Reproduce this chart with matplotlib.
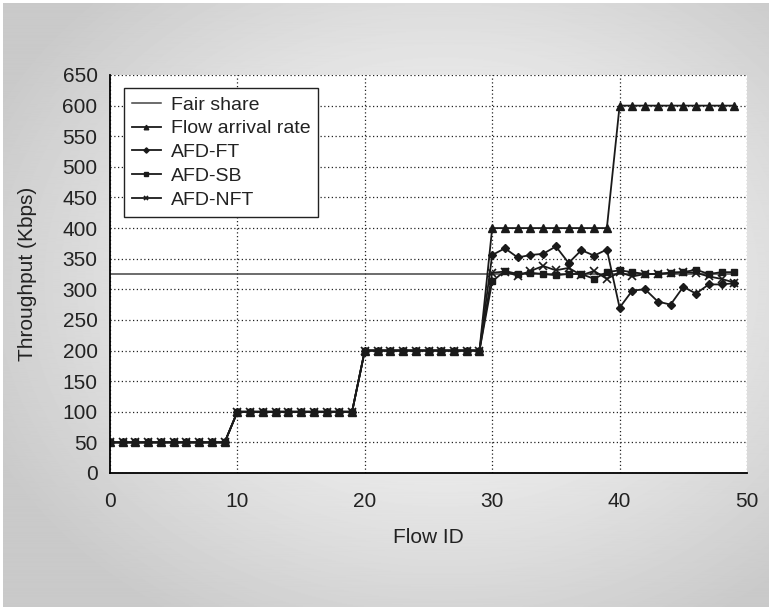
import numpy as np
import matplotlib
matplotlib.use("Agg")
import matplotlib.pyplot as plt

plt.rcParams["font.family"] = ["Liberation Sans", "DejaVu Sans"]

flow_id = list(range(50))
fair_share = 325
arrival = [50] * 10 + [100] * 10 + [200] * 10 + [400] * 10 + [600] * 10
afd_ft = ([50] * 10 + [100] * 10 + [200] * 10 +
          [356, 367, 352, 356, 358, 370, 343, 364, 355, 365,
           270, 298, 300, 280, 275, 304, 293, 308, 308, 310])
afd_sb = ([50] * 10 + [100] * 10 + [200] * 10 +
          [313, 330, 325, 327, 325, 323, 325, 325, 317, 328,
           331, 328, 325, 325, 327, 328, 332, 325, 328, 328])
afd_nft = ([50] * 10 + [100] * 10 + [200] * 10 +
           [327, 329, 322, 330, 338, 331, 335, 323, 330, 317,
            328, 321, 325, 325, 327, 328, 327, 321, 317, 311])

fig = plt.figure(figsize=(7.69, 6.07), dpi=100)

# grey radial backdrop
bg = fig.add_axes([3 / 769, 0, 1, 1 - 3 / 607], zorder=0)
yy, xx = np.mgrid[0:607, 0:769]
d = np.sqrt(((xx - 440) / 500.0) ** 2 + ((yy - 280) / 400.0) ** 2)
shade = 1.0 - 0.21 * np.clip(d, 0, 1) ** 1.2
bg.imshow(shade, cmap="gray", vmin=0, vmax=1, aspect="auto",
          extent=[0, 1, 0, 1], origin="upper")
bg.axis("off")

ax = fig.add_axes([110 / 769, 1 - 473 / 607, 637 / 769, 398 / 607], zorder=1)
ax.set_facecolor("white")

col = "#1a1a1a"
txt = "#222222"
ax.plot([0, 49], [fair_share, fair_share], color="#444444", lw=1.1,
        label="Fair share")
ax.plot(flow_id, arrival, color=col, lw=1.3, marker="^", ms=5.5,
        label="Flow arrival rate")
ax.plot(flow_id, afd_ft, color=col, lw=1.3, marker="D", ms=4.5,
        label="AFD-FT")
ax.plot(flow_id, afd_sb, color=col, lw=1.3, marker="s", ms=4,
        label="AFD-SB")
ax.plot(flow_id, afd_nft, color=col, lw=1.3, marker="x", ms=6, mew=1.2,
        label="AFD-NFT")

ax.set_xlim(0, 50)
ax.set_ylim(0, 650)
ax.set_xticks(np.arange(0, 51, 10))
ax.set_yticks(np.arange(0, 651, 50))
ax.grid(True, linestyle=(0, (1, 2)), color="#222222", lw=0.9)
ax.tick_params(length=0, labelsize=15, labelcolor=txt)
ax.tick_params(axis="y", pad=9)
ax.tick_params(axis="x", pad=14)
ax.spines["top"].set_visible(False)
ax.spines["right"].set_visible(False)
ax.spines["left"].set_linewidth(1.3)
ax.spines["bottom"].set_linewidth(1.3)

ax.set_xlabel("Flow ID", fontsize=15, labelpad=12, color=txt)
ax.set_ylabel("Throughput (Kbps)", fontsize=15, labelpad=18, color=txt)

leg = ax.legend(loc="upper left", bbox_to_anchor=(0.022, 0.967), fontsize=14,
                fancybox=False, framealpha=1, edgecolor="#222222",
                handlelength=1.5, markerscale=0.6, borderpad=0.4,
                labelspacing=0.32, borderaxespad=0, handletextpad=0.5)
leg.get_frame().set_linewidth(1.0)
for t in leg.get_texts():
    t.set_color(txt)

fig.savefig("out.png", dpi=100)
